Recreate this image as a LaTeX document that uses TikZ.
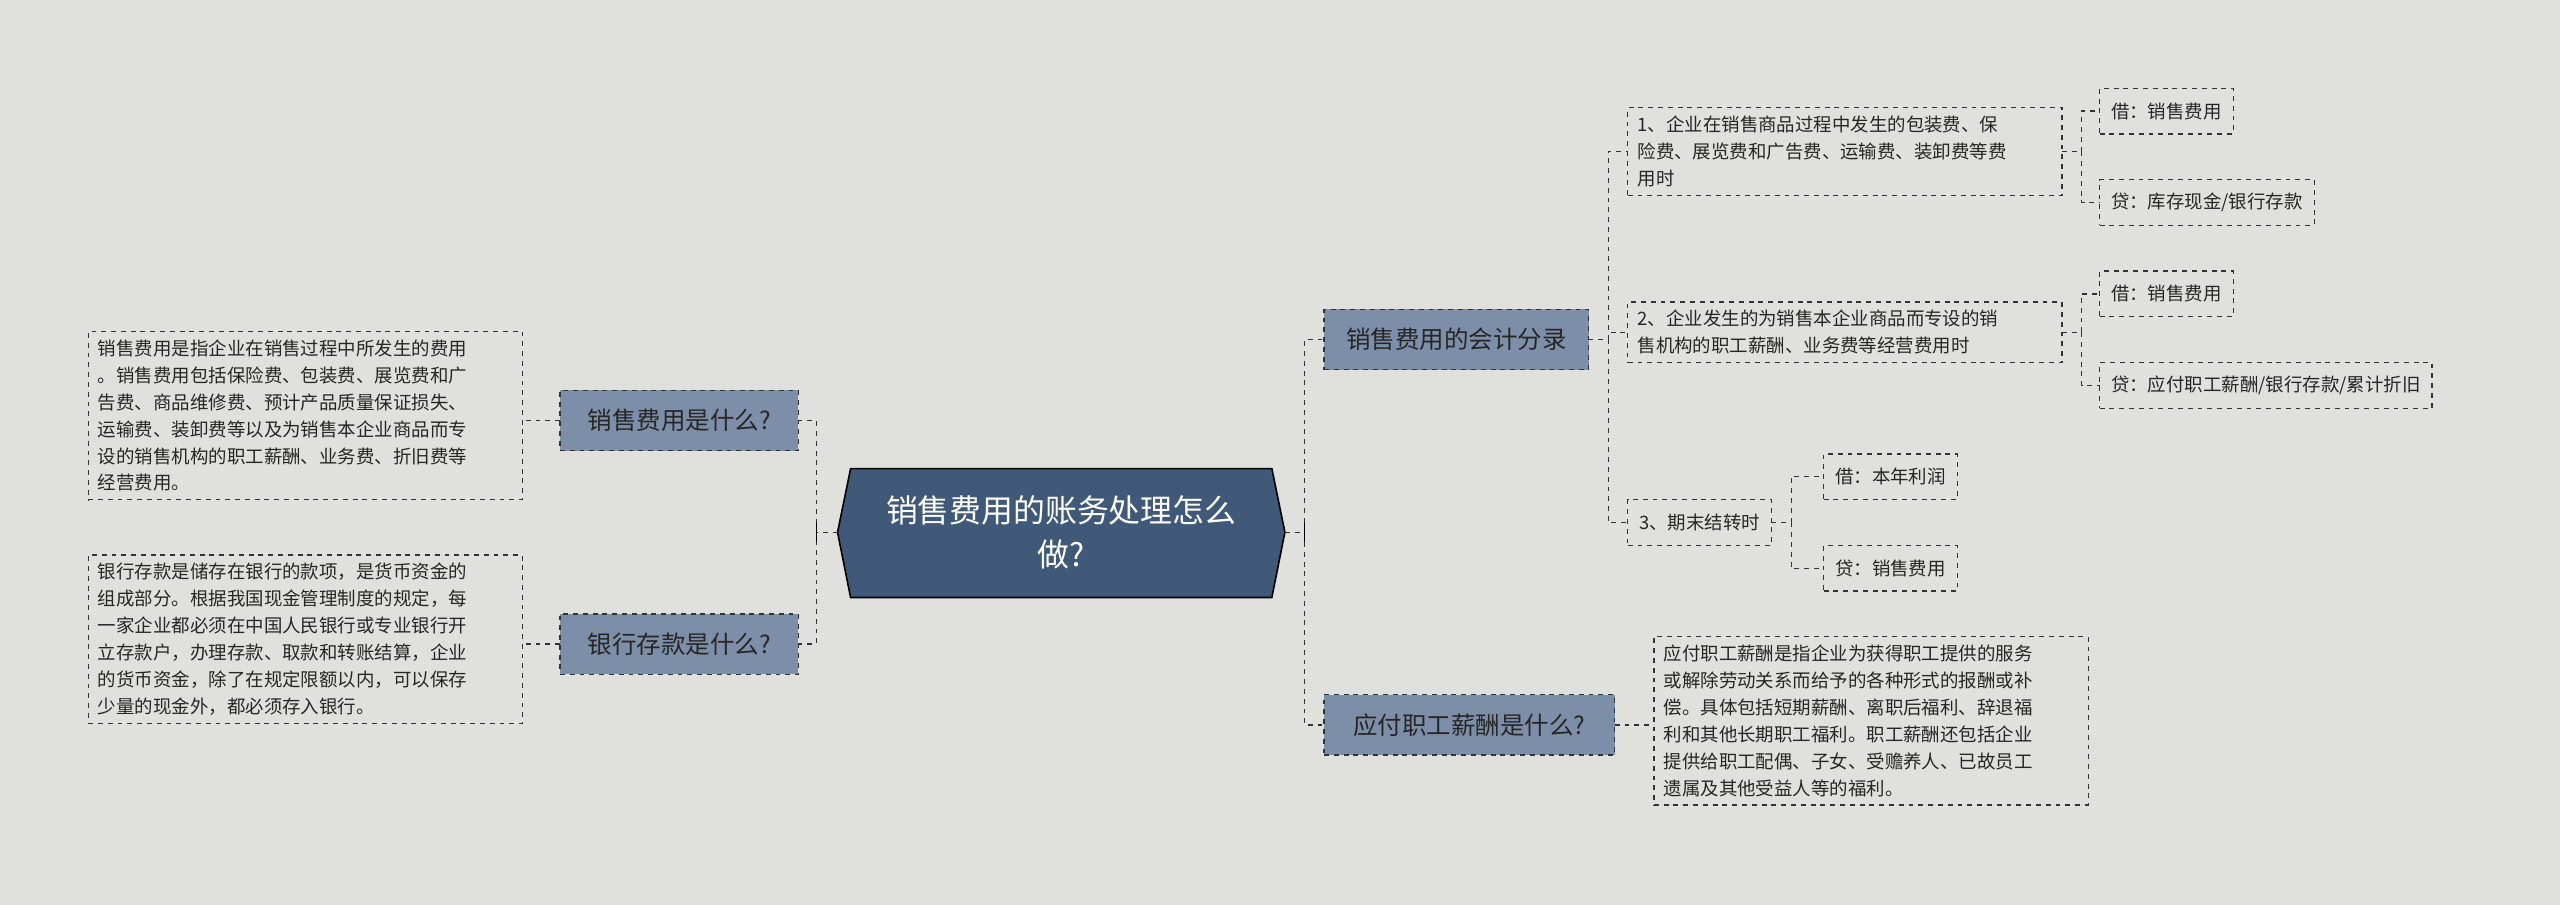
\documentclass[tikz,border=0pt]{standalone}
\usepackage{fontspec}
\setmainfont{Noto Sans CJK SC}
\begin{document}
\begin{tikzpicture}[x=1pt,y=-1pt,
  every node/.style={inner sep=0pt,outer sep=0pt},
  conn/.style={draw=black!80,dashed,line width=0.8pt},
  branchbox/.style={draw=black!80,dashed,line width=0.8pt,fill=branchc,text=black!85,font=\fontsize{15}{18}\selectfont,minimum height=37pt,inner xsep=8pt},
  leafbox/.style={draw=black!80,dashed,line width=0.8pt,align=left,anchor=north west,text=black!85,font=\fontsize{11.3}{16.5}\selectfont,inner xsep=6pt,inner ysep=5pt},
  smallbox/.style={draw=black!80,dashed,line width=0.8pt,text=black!85,font=\fontsize{11.3}{14}\selectfont,minimum height=28pt,inner xsep=7pt,anchor=west}]
\definecolor{bgc}{RGB}{224,225,220}
\definecolor{branchc}{RGB}{125,142,168}
\definecolor{rootc}{RGB}{64,89,120}
\fill[bgc] (0,0) rectangle (1568,554);
\useasboundingbox (0,0) rectangle (1568,554);
% root
\filldraw[fill=rootc,draw=black,line width=1pt] (513,326) -- (521,287) -- (779,287) -- (787,326) -- (779,366) -- (521,366) -- cycle;
\node[text=white,align=center,font=\fontsize{19.5}{27}\selectfont] (root) at (650,326) {销售费用的账务处理怎么\\做?};
\coordinate (rootW) at (513,326);
\coordinate (rootE) at (787,326);
% left branches
\node[branchbox,minimum width=146pt] (b1) at (416,257.5) {销售费用是什么?};
\node[branchbox,minimum width=146pt] (b2) at (416,394.5) {银行存款是什么?};
\node[leafbox,text width=254pt] (l1) at (54,203) {销售费用是指企业在销售过程中所发生的费用\\。销售费用包括保险费、包装费、展览费和广\\告费、商品维修费、预计产品质量保证损失、\\运输费、装卸费等以及为销售本企业商品而专\\设的销售机构的职工薪酬、业务费、折旧费等\\经营费用。};
\node[leafbox,text width=254pt] (l2) at (54,340) {银行存款是储存在银行的款项，是货币资金的\\组成部分。根据我国现金管理制度的规定，每\\一家企业都必须在中国人民银行或专业银行开\\立存款户，办理存款、取款和转账结算，企业\\的货币资金，除了在规定限额以内，可以保存\\少量的现金外，都必须存入银行。};
% right branches
\node[branchbox,minimum width=162pt] (b3) at (892,208) {销售费用的会计分录};
\node[branchbox,minimum width=178pt] (b4) at (900,444) {应付职工薪酬是什么?};
\node[leafbox,text width=254pt] (r1) at (997,66) {1、企业在销售商品过程中发生的包装费、保\\险费、展览费和广告费、运输费、装卸费等费\\用时};
\node[leafbox,text width=254pt] (r2) at (997,185) {2、企业发生的为销售本企业商品而专设的销\\售机构的职工薪酬、业务费等经营费用时};
\node[smallbox] (r3) at (997,320) {3、期末结转时};
\node[leafbox,text width=254pt] (r4) at (1013,390) {应付职工薪酬是指企业为获得职工提供的服务\\或解除劳动关系而给予的各种形式的报酬或补\\偿。具体包括短期薪酬、离职后福利、辞退福\\利和其他长期职工福利。职工薪酬还包括企业\\提供给职工配偶、子女、受赡养人、已故员工\\遗属及其他受益人等的福利。};
\node[smallbox] (s1) at (1286,68) {借：销售费用};
\node[smallbox] (s2) at (1286,124) {贷：库存现金/银行存款};
\node[smallbox] (s3) at (1286,180) {借：销售费用};
\node[smallbox] (s4) at (1286,236) {贷：应付职工薪酬/银行存款/累计折旧};
\node[smallbox] (s5) at (1117,292) {借：本年利润};
\node[smallbox] (s6) at (1117,348) {贷：销售费用};
% connectors
\draw[conn] (rootW) -- ++(-13,0) |- (b1.east);
\draw[conn] (rootW) -- ++(-13,0) |- (b2.east);
\draw[conn] (rootE) -- ++(12,0) |- (b3.west);
\draw[conn] (rootE) -- ++(12,0) |- (b4.west);
\draw[conn] (b1.west) -- (l1.east |- b1.west);
\draw[conn] (b2.west) -- (l2.east |- b2.west);
\draw[conn] (b4.east) -- (r4.west |- b4.east);
\foreach \t in {r1,r2,r3} \draw[conn] (b3.east) -- ++(12,0) |- (\t.west);
\draw[conn] (r1.east) -- ++(12,0) |- (s1.west);
\draw[conn] (r1.east) -- ++(12,0) |- (s2.west);
\draw[conn] (r2.east) -- ++(12,0) |- (s3.west);
\draw[conn] (r2.east) -- ++(12,0) |- (s4.west);
\draw[conn] (r3.east) -- ++(12,0) |- (s5.west);
\draw[conn] (r3.east) -- ++(12,0) |- (s6.west);
% ticks
\draw[line width=1pt] (500,320) -- (500,332) (799,320) -- (799,332);
\end{tikzpicture}
\end{document}
